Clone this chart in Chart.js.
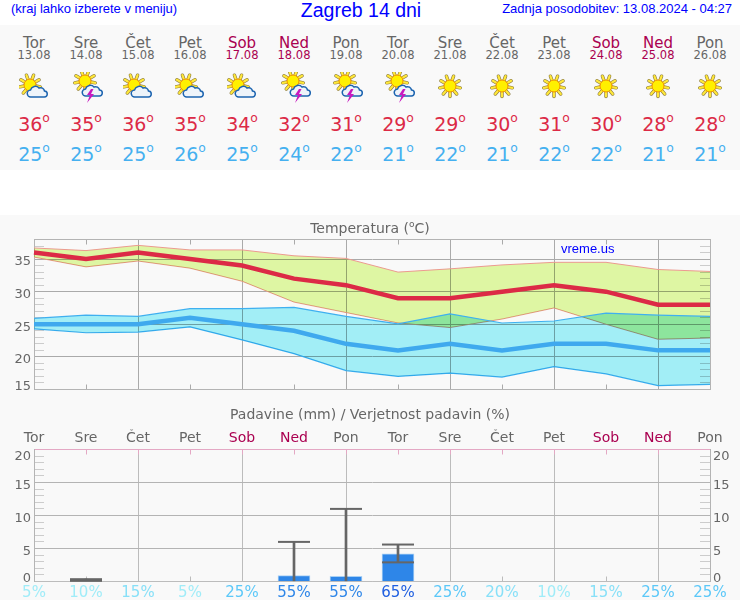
<!DOCTYPE html>
<html lang="sl">
<head>
<meta charset="UTF-8">
<title>Zagreb 14 dni</title>
<script src="https://cdn.jsdelivr.net/npm/chart.js"></script>
<style>
  html, body { margin: 0; padding: 0; background: #fff; }
  #page { position: relative; width: 740px; height: 600px; overflow: hidden; font-family: "DejaVu Sans", sans-serif; color: #666; }
  #page div, #page canvas, #page svg { position: absolute; }
  .blue { font-family: "Liberation Sans", sans-serif; color: #0000ff; white-space: nowrap; }
  .c { width: 52px; text-align: center; white-space: nowrap; }
  sup { font-size: 65%; line-height: 0; vertical-align: baseline; position: relative; top: -0.7em; }
</style>
</head>
<body>
<div id="page">
  <div style="left:0;top:25px;width:740px;height:145px;background:#f9f9f9"></div>
  <div style="left:0;top:215px;width:740px;height:385px;background:#f9f9f9"></div>
  <div class="blue" style="left:11px;top:1px;font-size:13px">(kraj lahko izberete v meniju)</div>
  <div class="blue" style="left:261px;top:-1px;width:200px;text-align:center;font-size:19.5px">Zagreb 14 dni</div>
  <div class="blue" style="right:8px;top:1px;font-size:13px">Zadnja posodobitev: 13.08.2024 - 04:27</div>
  <div id="days"></div>
  <canvas id="tempChart" width="740" height="175" style="left:0;top:215px"></canvas>
  <canvas id="rainChart" width="740" height="200" style="left:0;top:400px"></canvas>
  <div style="left:170px;top:220px;width:400px;text-align:center;font-size:14px">Temperatura (<sup>o</sup>C)</div>
  <div class="blue" style="left:561px;top:241px;font-size:13px">vreme.us</div>
  <div style="left:170px;top:406px;width:400px;text-align:center;font-size:14px">Padavine (mm) / Verjetnost padavin (%)</div>
</div>

<script>
  const dayNames = ['Tor','Sre','Čet','Pet','Sob','Ned','Pon','Tor','Sre','Čet','Pet','Sob','Ned','Pon'];
  const dates = ['13.08','14.08','15.08','16.08','17.08','18.08','19.08','20.08','21.08','22.08','23.08','24.08','25.08','26.08'];
  const icons = ['cloud','storm','cloud','cloud','cloud','storm','storm','storm','sun','sun','sun','sun','sun','sun'];

  const tempMax = [36,35,36,35,34,32,31,29,29,30,31,30,28,28];
  const tempMin = [25,25,25,26,25,24,22,21,22,21,22,22,21,21];

  const redHigh = [36.7,36.3,37.1,36.4,36.4,35.5,35.1,33.0,33.5,34.1,34.5,34.5,33.4,33.1];
  const redLow = [35.3,33.8,34.7,33.6,31.6,28.4,26.8,25.2,24.5,25.8,27.5,25.0,22.7,22.9];
  const blueHigh = [25.9,26.4,26.2,27.4,27.4,27.6,26.2,25.05,26.6,25.2,25.5,26.7,26.4,26.2];
  const blueLow = [24.3,23.7,23.8,24.6,22.6,20.5,17.9,17.0,17.5,16.9,18.5,17.4,15.6,15.8];

  const rainBars = [null,null,null,null,null,0.9,0.8,4.2,null,null,null,null,null,null];
  const rainStems = [null,[0,0.35],null,null,null,[0,6],[0,11],[2.9,5.6],null,null,null,null,null,null];
  const rainTop = [null,0.35,null,null,null,6,11,5.6,null,null,null,null,null,null];
  const rainBottom = [null,0.1,null,null,null,null,null,2.9,null,null,null,null,null,null];
  const rainChance = [5,10,15,5,25,55,55,65,25,20,10,15,25,25];

  const weekend = i => dayNames[i] === 'Sob' || dayNames[i] === 'Ned';
  const chanceColor = p => p >= 65 ? '#1f5fe0' : p >= 55 ? '#2e86e8' : p >= 25 ? '#5cc8f8' : p >= 15 ? '#88e0f8' : '#a0ecf8';

  function iconSvg(kind) {
    let rays = '';
    const sun = kind === 'sun';
    const cx = sun ? 15 : kind === 'storm' ? 14 : 11, cy = sun ? 14 : kind === 'storm' ? 9 : 13, r0 = 6, r1 = 10.5;
    for (let a = 0; a < 360; a += 40) {
      const s = Math.sin((a + 10) * Math.PI / 180), c = Math.cos((a + 10) * Math.PI / 180);
      rays += `<path d="M${cx + r0 * c} ${cy + r0 * s}L${cx + r1 * c} ${cy + r1 * s}" stroke="#8a7a40" stroke-width="3.4" stroke-linecap="round"/>`;
      rays += `<path d="M${cx + r0 * c} ${cy + r0 * s}L${cx + r1 * c} ${cy + r1 * s}" stroke="#ffe83a" stroke-width="2.2" stroke-linecap="round"/>`;
    }
    let out = rays + `<circle cx="${cx}" cy="${cy}" r="6" fill="#fff000" stroke="#f09000" stroke-width="1"/>`;
    if (!sun) {
      const pos = kind === 'storm' ? 'translate(11,13)' : 'translate(8,14)';
      out += `<path transform="${pos}" d="M4 11a3.5 3.5 0 0 1 -.5 -7a5 5 0 0 1 8.5 -2a4 4 0 0 1 5.5 3a3 3 0 0 1 -.5 6Z" fill="#eef4fa" stroke="#1c64b0" stroke-width="1.5"/>`;
    }
    if (kind === 'storm') out += '<path d="M20 17l-4 6h3l-3 8l7-9h-3l2.5-5Z" fill="#c818c0"/>';
    return out;
  }

  let html = '';
  dayNames.forEach((name, i) => {
    const x = 8 + 52 * i;
    const col = weekend(i) ? '#aa0050' : '#666';
    html += `<div class="c" style="left:${x}px;top:34px;font-size:15px;color:${col}">${name}</div>`;
    html += `<div class="c" style="left:${x}px;top:48px;font-size:11.5px;color:${col}">${dates[i]}</div>`;
    html += `<svg style="left:${x + 11}px;top:72px" width="32" height="32" viewBox="0 0 32 32">${iconSvg(icons[i])}</svg>`;
    html += `<div class="c" style="left:${x}px;top:113px;font-size:19px;color:#dc2a46">${tempMax[i]}<sup>o</sup></div>`;
    html += `<div class="c" style="left:${x}px;top:143px;font-size:19px;color:#45b0f0">${tempMin[i]}<sup>o</sup></div>`;
  });
  document.getElementById('days').innerHTML = html;

  // bands overlap as in the original: fills are multiplied, lines are not
  const multiplyFills = {
    id: 'multiplyFills',
    beforeDatasetsDraw: c => { c.ctx.globalCompositeOperation = 'multiply'; },
    beforeDatasetDraw: c => { c.ctx.globalCompositeOperation = 'source-over'; },
    afterDatasetDraw: c => { c.ctx.globalCompositeOperation = 'multiply'; },
    afterDatasetsDraw: c => { c.ctx.globalCompositeOperation = 'source-over'; }
  };

  // nudge y labels off their ticks the way the original does
  const shiftLabels = {
    id: 'shiftLabels',
    beforeDraw(c, args, opts) {
      ['y', 'y2'].forEach(id => {
        c.scales[id].getLabelItems().forEach(item => {
          if (item.shifted) return;
          item.shifted = true;
          item.options.translation[1] += opts.shift[item.label] || 0;
        });
      });
    }
  };

  const font = { family: '"DejaVu Sans"', size: 13 };

  function yAxis(position, min, max, minorColor, gridColor, showLabels, grid) {
    return {
      type: 'linear', position, min, max,
      afterFit: s => {
        s.width = position === 'left' ? 34 : 30;
        s.paddingTop = 0;
        s.paddingBottom = 0;
      },
      afterBuildTicks: s => { s.ticks = []; for (let v = min; v <= max; v++) s.ticks.push({ value: v }); },
      border: { color: '#b4b4b4', width: 1 },
      ticks: {
        autoSkip: false, padding: 13, color: '#666', font,
        callback: v => showLabels && v % 5 === 0 ? String(v) : ''
      },
      grid: {
        tickLength: -10, drawOnChartArea: grid,
        color: ctx => ctx.tick && ctx.tick.value % 5 === 0 ? gridColor : 'rgba(0,0,0,0)',
        tickColor: ctx => ctx.tick && ctx.tick.value % 5 === 0 ? gridColor : minorColor
      }
    };
  }

  function xAxis(position, height, gridColor, tickColor, borderColor, grid, tickOpts) {
    return {
      type: 'category', position, labels: dayNames, offset: false,
      afterFit: s => { s.height = height; },
      border: { color: borderColor, width: 1 },
      ticks: tickOpts,
      grid: {
        offset: false, tickLength: -5, drawOnChartArea: grid,
        color: ctx => ctx.index % 2 === 0 ? gridColor : 'rgba(0,0,0,0)',
        tickColor
      }
    };
  }

  new Chart(document.getElementById('tempChart'), {
    type: 'line',
    data: {
      labels: dayNames,
      datasets: [
        { data: tempMax, borderColor: '#dc2a46', borderWidth: 4.5, pointRadius: 0, fill: false },
        { data: tempMin, borderColor: '#3fa9ee', borderWidth: 4.5, pointRadius: 0, fill: false },
        { data: blueHigh, borderColor: '#3fb0f0', borderWidth: 1.2, pointRadius: 0, fill: { target: 5 }, backgroundColor: '#a2eef6' },
        { data: redHigh, borderColor: '#ec9a90', borderWidth: 1, pointRadius: 0, fill: { target: 4 }, backgroundColor: '#def6a3' },
        { data: redLow, borderColor: '#ec9a90', borderWidth: 1, pointRadius: 0, fill: false },
        { data: blueLow, borderColor: '#3fb0f0', borderWidth: 1.2, pointRadius: 0, fill: false }
      ]
    },
    options: {
      responsive: false, animation: false, events: [],
      layout: { padding: { top: 24.5, bottom: 0.5 } },
      plugins: { legend: { display: false }, tooltip: { enabled: false }, shiftLabels: { shift: { 15: -3, 20: 3, 25: 3, 30: 3, 35: 3 } } },
      scales: {
        x: xAxis('bottom', 0, '#aaaaaa', '#aaaaaa', '#b4b4b4', true, { display: false, autoSkip: false }),
        x2: xAxis('top', 0, '#aaaaaa', '#aaaaaa', '#b4b4b4', false, { display: false, autoSkip: false }),
        y: yAxis('left', 15, 38, '#cccccc', '#aaaaaa', true, true),
        y2: yAxis('right', 15, 38, '#cccccc', '#aaaaaa', false, false)
      }
    },
    plugins: [multiplyFills, shiftLabels]
  });

  new Chart(document.getElementById('rainChart'), {
    data: {
      labels: dayNames,
      datasets: [
        { type: 'line', data: rainTop, showLine: false, pointStyle: 'line', pointRadius: 16, pointBorderColor: '#666', pointBorderWidth: 2, clip: false },
        { type: 'line', data: rainBottom, showLine: false, pointStyle: 'line', pointRadius: 16, pointBorderColor: '#666', pointBorderWidth: 2, clip: false },
        { type: 'bar', data: rainStems, barThickness: 2, grouped: false, backgroundColor: '#666' },
        { type: 'bar', data: rainBars, barThickness: 32, grouped: false, backgroundColor: '#2e86e8', borderColor: '#a8d0f4', borderWidth: { top: 1, left: 1, right: 1 } }
      ]
    },
    options: {
      responsive: false, animation: false, events: [],
      layout: { padding: { top: 29.5, bottom: 0 } },
      plugins: { legend: { display: false }, tooltip: { enabled: false }, shiftLabels: { shift: { 0: -2.5, 5: 3.5, 10: 3.5, 15: 3.5, 20: 7 } } },
      scales: {
        x: xAxis('bottom', 18.5, '#bcbcbc', '#bcbcbc', '#bcbcbc', true, {
          display: true, autoSkip: false, maxRotation: 0, padding: 8,
          font: { family: '"DejaVu Sans"', size: 15 },
          color: ctx => chanceColor(rainChance[ctx.index]),
          callback: (v, i) => rainChance[i] + '%'
        }),
        x2: xAxis('top', 20, '#bcbcbc', '#e4a8c4', '#e4a8c4', false, {
          display: true, autoSkip: false, maxRotation: 0, padding: 8,
          font: { family: '"DejaVu Sans"', size: 14 },
          color: ctx => weekend(ctx.index) ? '#aa0050' : '#666',
          callback: (v, i) => dayNames[i]
        }),
        y: yAxis('left', 0, 20, '#cccccc', '#b4b4b4', true, true),
        y2: yAxis('right', 0, 20, '#cccccc', '#b4b4b4', true, false)
      }
    },
    plugins: [shiftLabels]
  });
</script>
</body>
</html>
